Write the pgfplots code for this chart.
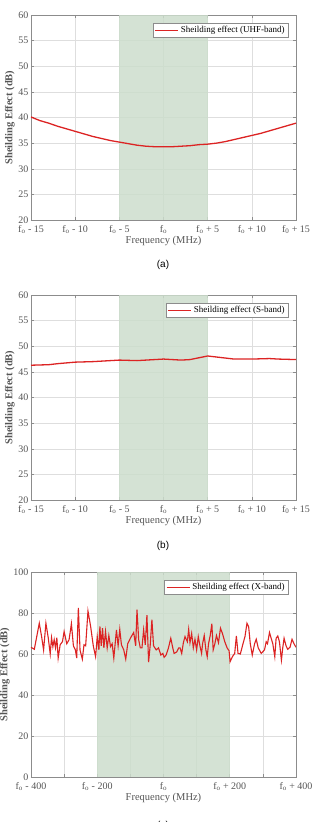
\documentclass[border=0pt]{standalone}
\usepackage{pgfplots}
\pgfplotsset{compat=1.18}
\usepackage{fontspec}
\setmainfont{Liberation Serif}
\newfontfamily\capfont{Liberation Sans}
\definecolor{shade}{RGB}{204,221,204}
\definecolor{sered}{RGB}{220,35,35}
\definecolor{txt}{RGB}{85,85,85}
\definecolor{gridc}{RGB}{222,222,222}
\definecolor{axc}{RGB}{140,140,140}
\pgfplotsset{
  mat/.style={
    scale only axis, width=265pt, height=205pt,
    anchor=south west,
    axis line style={axc, line width=0.6pt},
    tick style={axc, line width=0.5pt},
    tick align=inside, major tick length=3pt,
    xtick pos=both, ytick pos=both,
    grid=major, major grid style={gridc, line width=0.5pt},
    tick label style={font=\fontsize{10}{11}\selectfont, text=txt},
    yticklabel style={xshift=1pt},
    xticklabel style={yshift=-1.5pt},
    /pgf/number format/assume math mode=true,
    xlabel={Frequency (MHz)},
    ylabel={\bfseries Sheilding Effect (dB)},
    label style={font=\fontsize{10.5}{12}\selectfont, text=txt},
    xlabel style={yshift=4pt},
    ylabel style={yshift=-3pt},
    legend style={at={(0.97,0.96)}, anchor=north east, font=\fontsize{9}{10}\selectfont, text=black, draw=axc, line width=0.5pt, inner sep=1.2pt, legend cell align=left},
    legend image code/.code={\draw[sered, line width=1.4pt] (0pt,0pt) -- (23pt,0pt);},
  }
}
\begin{document}
\begin{tikzpicture}
\path[use as bounding box] (0,0) rectangle (311pt,-822pt);
% ---------- (a)
\begin{axis}[mat, at={(31pt,-220pt)},
  xmin=-15, xmax=15, ymin=20, ymax=60,
  xtick={-15,-10,-5,0,5,10,15},
  xticklabels={f\textsubscript{o} - 15, f\textsubscript{o} - 10, f\textsubscript{o} - 5, f\textsubscript{o}, f\textsubscript{o} + 5, f\textsubscript{o} + 10, f\textsubscript{0} + 15},
  ytick={20,25,...,60}]
\addplot[fill=shade, draw=none, fill opacity=0.85, forget plot] coordinates {(-5,20) (5,20) (5,60) (-5,60)} -- cycle;
\addplot[sered, line width=1.3pt] coordinates {
(-15,40.1)(-14,39.4)(-13,38.9)(-12,38.3)(-11,37.8)(-10,37.3)(-9,36.8)(-8,36.3)(-7,35.9)(-6,35.5)(-5,35.2)(-4,34.9)(-3,34.6)(-2,34.4)(-1,34.3)(0,34.3)(1,34.3)(2,34.4)(3,34.5)(4,34.7)(5,34.8)(6,35.0)(7,35.3)(8,35.7)(9,36.1)(10,36.5)(11,36.9)(12,37.4)(13,37.9)(14,38.4)(15,38.9)};
\addlegendentry{Sheilding effect (UHF-band)}
\end{axis}
\node[font=\capfont\fontsize{10}{11}\selectfont] at (163pt,-265pt) {(a)};
% ---------- (b)
\begin{axis}[mat, at={(31pt,-500pt)},
  xmin=-15, xmax=15, ymin=20, ymax=60,
  xtick={-15,-10,-5,0,5,10,15},
  xticklabels={f\textsubscript{o} - 15, f\textsubscript{o} - 10, f\textsubscript{o} - 5, f\textsubscript{o}, f\textsubscript{o} + 5, f\textsubscript{o} + 10, f\textsubscript{0} + 15},
  ytick={20,25,...,60}]
\addplot[fill=shade, draw=none, fill opacity=0.85, forget plot] coordinates {(-5,20) (5,20) (5,60) (-5,60)} -- cycle;
\addplot[sered, line width=1.3pt] coordinates {
(-15,46.3)(-13,46.4)(-12,46.6)(-10,46.9)(-8,47.0)(-6,47.2)(-5,47.3)(-3,47.2)(-2,47.3)(0,47.5)(1,47.4)(2,47.3)(3,47.4)(5,48.1)(6,47.9)(8,47.5)(10,47.5)(12,47.6)(13,47.5)(15,47.4)};
\addlegendentry{Sheilding effect (S-band)}
\end{axis}
\node[font=\capfont\fontsize{10}{11}\selectfont] at (163pt,-546pt) {(b)};
% ---------- (c)
\begin{axis}[mat, at={(31pt,-777pt)},
  xmin=-400, xmax=400, ymin=0, ymax=100,
  xtick={-400,-300,...,400},
  xticklabels={f\textsubscript{o} - 400, , f\textsubscript{o} - 200, , f\textsubscript{o}, , f\textsubscript{o} + 200, , f\textsubscript{o} + 400},
  ytick={0,20,...,100}]
\addplot[fill=shade, draw=none, fill opacity=0.85, forget plot] coordinates {(-200,0) (200,0) (200,100) (-200,100)} -- cycle;
\addplot[sered, line width=1.1pt] coordinates {
(-400,63.3)(-390,62.3)(-375,75)(-368,68.5)(-362,62)(-355,75)(-348,68)(-342,60)(-338,68)(-334,63.6)(-330,67)(-326,63)(-322,68)(-318,58)(-312,64.5)(-305,66)(-300,71)(-292,65)(-285,67)(-278,74.8)(-272,64)(-266,62)(-262,58)(-257,82.5)(-252,62)(-245,57.5)(-240,64.5)(-235,64)(-228,81)(-220,73.5)(-212,64)(-205,58.7)(-200,68.5)(-195,62)(-192,73.5)(-188,64)(-184,72.6)(-180,63)(-175,71)(-170,63)(-165,69)(-160,63.6)(-155,65)(-150,58)(-142,71.8)(-137,64)(-132,72)(-127,64.5)(-120,62)(-114,57.5)(-108,65)(-100,67.7)(-90,70.5)(-84,64)(-80,81.6)(-75,67)(-70,63)(-65,63)(-60,71.8)(-55,64.5)(-50,79)(-45,56)(-40,64.5)(-35,76.7)(-30,64)(-22,62)(-15,63)(-8,59.5)(-2,60.3)(2,58.4)(8,59.5)(15,63)(22,67.7)(28,63)(32,60.3)(40,61)(46,63)(50,63)(55,60.3)(60,65.5)(65,68.5)(72,66)(76,72)(80,65.5)(85,70)(90,63)(95,67.2)(100,62)(105,68.5)(110,64)(115,60.3)(118,65)(123,69)(128,62)(132,58.7)(136,65)(141,69)(146,74.8)(150,62)(155,65)(160,69)(166,65.5)(172,72.6)(178,70)(185,66)(192,63)(198,61.6)(201,56.2)(208,58.7)(215,60.3)(220,68.8)(225,60.3)(232,60)(240,65)(246,68.5)(252,75)(257,73.4)(262,65)(268,59.5)(275,65)(280,67.2)(286,63)(295,60.3)(305,62)(310,66)(314,65)(320,70.5)(325,67.7)(330,65)(336,58.7)(340,67.7)(345,68.8)(350,66)(356,57)(360,63)(364,67.7)(370,64)(375,62.3)(382,63.3)(388,67.2)(394,65)(400,63.3)};
\addlegendentry{Sheilding effect (X-band)}
\end{axis}
\node[font=\capfont\fontsize{10}{11}\selectfont] at (163pt,-826pt) {(c)};
\end{tikzpicture}
\end{document}
